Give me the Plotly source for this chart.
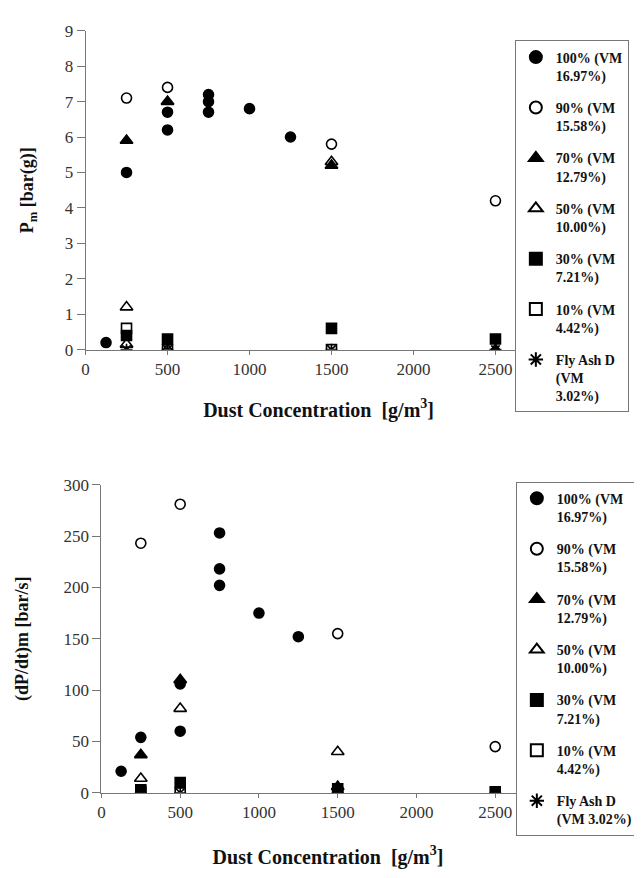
import plotly.graph_objects as go

# ---------------- data ----------------
series_names_top = [
    "100% (VM<br>16.97%)", "90% (VM<br>15.58%)", "70% (VM<br>12.79%)",
    "50% (VM<br>10.00%)", "30% (VM<br>7.21%)", "10% (VM<br>4.42%)",
    "Fly Ash D<br>(VM<br>3.02%)",
]
series_names_bot = series_names_top[:-1] + ["Fly Ash D<br>(VM 3.02%)"]

# Pm [bar(g)]
pm_100_x = [125, 250, 500, 500, 750, 750, 750, 1000, 1250]
pm_100_y = [0.2, 5.0, 6.7, 6.2, 7.2, 7.0, 6.7, 6.8, 6.0]
pm_90_x = [250, 500, 1500, 2500]
pm_90_y = [7.1, 7.4, 5.8, 4.2]
pm_70_x = [250, 500, 1500, 2500]
pm_70_y = [5.9, 7.0, 5.2, 0.0]
pm_50_x = [250, 250, 500, 1500]
pm_50_y = [1.2, 0.15, 0.0, 5.3]
pm_30_x = [250, 500, 1500, 2500]
pm_30_y = [0.4, 0.3, 0.6, 0.3]
pm_10_x = [250, 500, 1500]
pm_10_y = [0.6, 0.0, 0.0]
pm_fa_x = [250, 500, 1500, 2500]
pm_fa_y = [0.0, 0.0, 0.0, 0.0]

# (dP/dt)m [bar/s]
dp_100_x = [125, 250, 500, 500, 750, 750, 750, 1000, 1250]
dp_100_y = [21, 54, 106, 60, 253, 218, 202, 175, 152]
dp_90_x = [250, 500, 1500, 2500]
dp_90_y = [243, 281, 155, 45]
dp_70_x = [250, 500, 1500]
dp_70_y = [37, 110, 6]
dp_50_x = [250, 500, 1500]
dp_50_y = [14, 82, 40]
dp_30_x = [250, 500, 1500, 2500]
dp_30_y = [3, 10, 4, 1]
dp_10_x = [250, 500, 1500]
dp_10_y = [1, 0, 0]
dp_fa_x = [250, 500, 1500, 2500]
dp_fa_y = [0, 0, 0, 0]

x_ticks = [0, 500, 1000, 1500, 2000, 2500]

top_data = [(pm_100_x, pm_100_y), (pm_90_x, pm_90_y), (pm_70_x, pm_70_y),
            (pm_50_x, pm_50_y), (pm_30_x, pm_30_y), (pm_10_x, pm_10_y),
            (pm_fa_x, pm_fa_y)]
bot_data = [(dp_100_x, dp_100_y), (dp_90_x, dp_90_y), (dp_70_x, dp_70_y),
            (dp_50_x, dp_50_y), (dp_30_x, dp_30_y), (dp_10_x, dp_10_y),
            (dp_fa_x, dp_fa_y)]

symbols = ["circle", "circle-open", "triangle-up", "triangle-up-open",
           "square", "square-open", "asterisk-open"]
sizes = [10, 10, 11, 11, 10, 10, 10]

SERIF = "Liberation Serif, Times New Roman, serif"

fig = go.Figure()
for i, (xs, ys) in enumerate(top_data):
    fig.add_trace(go.Scatter(
        x=xs, y=ys, mode="markers", name="<b>" + series_names_top[i] + "</b>",
        marker=dict(symbol=symbols[i], size=sizes[i], color="black",
                    line=dict(color="black", width=1.6)),
        xaxis="x", yaxis="y", legend="legend", legendgroup="t%d" % i,
    ))
for i, (xs, ys) in enumerate(bot_data):
    fig.add_trace(go.Scatter(
        x=xs, y=ys, mode="markers", name="<b>" + series_names_bot[i] + "</b>",
        marker=dict(symbol=symbols[i], size=sizes[i], color="black",
                    line=dict(color="black", width=1.6)),
        xaxis="x2", yaxis="y2", legend="legend2", legendgroup="b%d" % i,
    ))

W, H = 642, 878
axis_common = dict(
    showgrid=False, zeroline=False, showline=True, linecolor="#777",
    linewidth=1, ticks="outside", tickcolor="#777",
    tickfont=dict(family=SERIF, size=17, color="#333"),
)
xtitle_font = dict(family=SERIF, size=20, color="#111")
ytitle_font = dict(family=SERIF, size=18, color="#111")

fig.update_layout(
    width=W, height=H,
    margin=dict(l=0, r=0, t=0, b=0),
    paper_bgcolor="white", plot_bgcolor="white",
    font=dict(family=SERIF),
    xaxis=dict(domain=[74 / W, 543 / W], range=[0, 469 / 0.165],
               tickvals=x_ticks, anchor="y", ticklen=4,
               title=dict(text="<b>Dust Concentration  [g/m<sup>3</sup>]</b>",
                          font=xtitle_font, standoff=24),
               **axis_common),
    yaxis=dict(domain=[1 - 340 / H, 1 - 14 / H], range=[0, 9], dtick=1,
               anchor="x", ticklen=8,
               title=dict(text="<b>P<sub>m</sub> [bar(g)]</b>",
                          font=ytitle_font, standoff=26),
               **axis_common),
    xaxis2=dict(domain=[90 / W, 546 / W], range=[0, 456 / 0.1585],
                tickvals=x_ticks, anchor="y2", ticklen=4,
                title=dict(text="<b>Dust Concentration  [g/m<sup>3</sup>]</b>",
                           font=xtitle_font, standoff=28),
                **axis_common),
    yaxis2=dict(domain=[1 - 793 / H, 1 - 478 / H], range=[0, 300], dtick=50,
                anchor="x2", ticklen=8,
                title=dict(text="<b>(dP/dt)m [bar/s]</b>",
                           font=ytitle_font, standoff=30),
                **axis_common),
    legend=dict(x=506 / W, xanchor="left", y=1 - 24 / H, yanchor="top",
                bgcolor="white", bordercolor="#777", borderwidth=1,
                font=dict(family=SERIF, size=14, color="#111"),
                tracegroupgap=11, valign="top", itemsizing="constant"),
    legend2=dict(x=507 / W, xanchor="left", y=1 - 475 / H, yanchor="top",
                 bgcolor="white", bordercolor="#777", borderwidth=1,
                 font=dict(family=SERIF, size=14, color="#111"),
                 tracegroupgap=11, valign="top", itemsizing="constant"),
    showlegend=True,
)

fig.write_html("out.html")
